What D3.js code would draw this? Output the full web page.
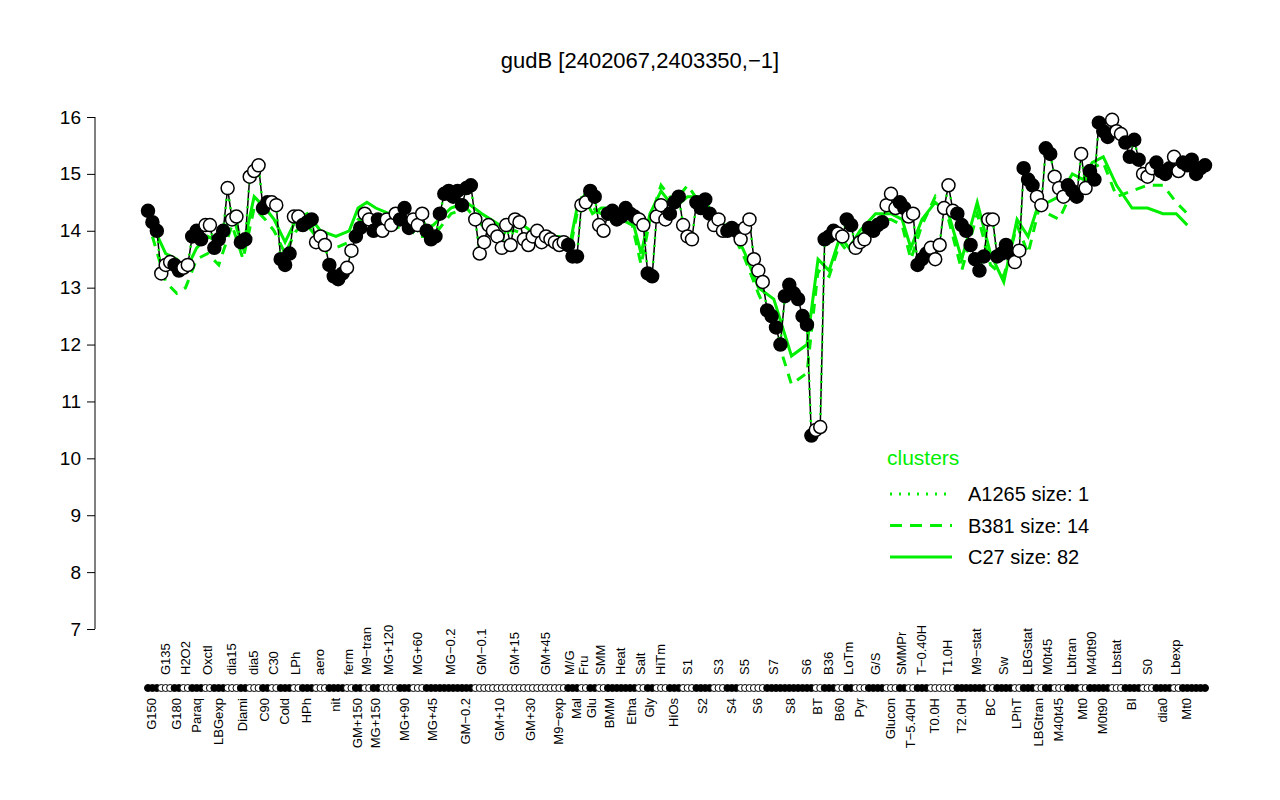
<!DOCTYPE html>
<html lang="en">
<head>
<meta charset="utf-8" />
<title>gudB</title>
<script src="https://d3js.org/d3.v7.min.js"></script>
<style>body{margin:0;background:#fff;} text{font-family:"Liberation Sans",Arial,sans-serif;}</style>
</head>
<body>
<svg id="chart" width="1280" height="800"></svg>
<script>
// groups of conditions, in plotting order
var groupNames = ["G150","G135","G180","H2O2","Paraq","Oxctl","LBGexp","dia15","Diami","dia5","C90","C30","Cold","LPh","HPh","aero","nit","ferm",
  "GM+150","M9\u2212tran","MG+150","MG+120","MG+90","MG+60","MG+45","MG\u22120.2","GM\u22120.2","GM\u22120.1","GM+10","GM+15","GM+30","GM+45","M9\u2212exp","M/G",
  "Mal","Fru","Glu","SMM","BMM","Heat","Etha","Salt","Gly","HiTm","HiOs","S1","S2","S3","S4","S5","S6","S7","S8","S6",
  "BT","B36","B60","LoTm","Pyr","G/S","Glucon","SMMPr","T\u22125.40H","T\u22120.40H","T0.0H","T1.0H","T2.0H","M9\u2212stat","BC","Sw",
  "LPhT","LBGstat","LBGtran","M0t45","M40t45","Lbtran","Mt0","M40t90","M0t90","Lbstat","BI","S0","dia0","Lbexp","Mt0"];
var groupValues = [[14.35,14.15,14.0],[13.25,13.4,13.45],[13.4,13.3],[13.35,13.4],[13.9,14.0,13.85],[14.1,14.1],[13.7,13.85,14.0],[14.75,14.2,14.25],[13.8,13.85],[14.95,15.05,15.15],
  [14.4,14.5],[14.5,14.45],[13.5,13.4,13.6],[14.25,14.25],[14.1,14.15,14.2],[13.8,13.9,13.75],[13.4,13.2,13.15,13.25],[13.35,13.65],
  [13.9,14.05],[14.3,14.2],[14.0,14.2],[14.0,14.2,14.1,14.3],[14.2,14.4,14.05],[14.2,14.1,14.3],[14.0,13.85,13.9,14.3],[14.65,14.7,14.6,14.7],[14.45,14.75,14.8],
  [14.2,13.6,13.8,14.1],[14.0,13.9,13.7,14.1],[13.75,14.2,14.15],[13.85,13.75,13.9,14.0],[13.8,13.9,13.85],[13.8,13.75,13.8],[13.75,13.55],[13.55],
  [14.45,14.5],[14.7,14.6],[14.1,14.0],[14.3,14.35],[14.2,14.25,14.4],[14.3,14.25],[14.2,14.1],[13.25,13.2],[14.25,14.45,14.2],[14.3,14.5,14.6],[14.1,13.9,13.85],
  [14.5,14.4,14.55,14.3],[14.1,14.2,14.0],[14.0,14.05,14.0],[13.85,14.05,14.2],[13.5,13.3,13.1],[12.6,12.5,12.3,12.0],[12.85,13.05,12.9,12.8],[12.5,12.35,10.4],[10.5,10.55],
  [13.85,13.9,14.0],[13.95,13.9],[14.2,14.1],[13.7,13.8,13.85],[14.05,14.0,14.1,14.15],[14.45,14.65,14.4],[14.5,14.4],[14.25,14.3],[13.4,13.5,13.6],[13.7,13.5,13.75],
  [14.4,14.8,14.35],[14.3,14.1,14.0],[13.75,13.5,13.3,13.55],[14.2,14.2],[13.55,13.6,13.75,13.6],[13.45,13.65],
  [15.1,14.9,14.8],[14.6,14.45],[15.45,15.35],[14.95,14.75,14.6],[14.8,14.7,14.6],[15.35,14.75],[15.05,14.9],[15.9,15.75,15.65],[15.95,15.75,15.7],[15.55,15.3,15.6,15.25],
  [15.0,14.95,15.1],[15.2,15.05,15.0,15.1],[15.3,15.05],[15.2,15.15,15.25],[15.0,15.1,15.15]];
var groupFilled = [1,0,1,0,1,0,1,0,1,0,1,0,1,0,1,0,1,0, 1,0,1,0,1,0,1,1,1,0,0,0,0,0,0,1,1, 0,1,0,1,1,1,0,1,0,1,0,1,0,1,0,0,1,1,1,0, 1,0,1,0,1,0,1,0,1,0,0,1,1,0,1,0, 1,0,1,0,1,0,1,1,0,1,0,1,0,1,1];
// cluster means per group
var c27 = [14.1,13.6,13.5,13.3,13.7,13.9,13.8,14.3,13.7,14.6,14.4,14.2,13.8,14.2,14.3,14.0,13.9,14.0,
  14.4,14.5,14.4,14.3,14.2,14.0,14.1,14.4,14.5,14.3,14.1,14.2,14.0,13.9,13.9,13.8,
  14.4,14.6,14.3,14.4,14.4,14.3,14.2,13.6,14.3,14.7,14.4,14.6,14.6,14.1,14.1,13.6,13.0,12.8,11.8,12.0,
  13.5,13.3,13.9,13.7,14.0,14.3,14.3,14.2,13.7,14.2,14.5,14.3,13.5,14.5,13.6,13.1,
  14.2,13.9,14.5,14.5,14.6,15.0,14.9,15.2,15.3,14.8,14.4,14.4,14.3,14.3,14.1];
var b381 = [13.9,13.1,12.9,13.0,13.5,13.6,13.4,14.1,13.5,14.4,14.2,14.0,13.6,14.0,14.1,13.8,13.7,13.8,
  14.2,14.2,14.1,14.0,14.1,13.9,13.9,14.3,14.4,14.1,14.0,14.0,13.9,13.8,13.7,13.7,
  14.3,14.7,14.4,14.3,14.2,14.2,14.1,13.4,14.2,14.8,14.5,14.8,14.4,14.0,14.0,13.5,12.9,12.3,11.3,11.5,
  13.3,13.2,13.8,13.6,13.9,14.2,14.2,14.1,13.5,14.1,14.6,14.2,13.3,14.3,13.4,13.2,
  14.1,13.6,14.4,14.3,14.2,14.7,14.8,15.1,15.2,14.6,14.7,14.8,14.8,14.5,14.3];
var yTicks = [7,8,9,10,11,12,13,14,15,16];

var svg = d3.select("#chart");
var pts = [], gCenter = [];
groupValues.forEach(function(vals, g) {
  var s = pts.length;
  vals.forEach(function(v) { pts.push({v: v, g: g}); });
  gCenter.push((s + pts.length - 1) / 2);
});
var x = d3.scaleLinear().domain([0, pts.length - 1]).range([148, 1205]);
var y = d3.scaleLinear().domain([7, 16]).range([629, 117]);

svg.append("text").attr("x", 640).attr("y", 68).attr("text-anchor", "middle")
  .attr("font-size", 22).text("gudB [2402067,2403350,\u22121]");

var ax = svg.append("g").attr("transform", "translate(95,0)")
  .call(d3.axisLeft(y).tickValues(yTicks).tickSize(8).tickPadding(6).tickFormat(d3.format("d")));
ax.selectAll("text").attr("font-size", 19).attr("fill", "#000").attr("font-family", "Liberation Sans, Arial, sans-serif");
ax.selectAll("line, path").attr("stroke", "#000");
ax.select(".domain").attr("d", "M0," + y(7) + "V" + y(16));

var gl = d3.line().x(function(d, i) { return x(gCenter[i]); }).y(function(d) { return y(d); });
svg.append("path").attr("d", gl(c27)).attr("fill", "none").attr("stroke", "#00ee00").attr("stroke-width", 3);
svg.append("path").attr("d", gl(b381)).attr("fill", "none").attr("stroke", "#00ee00").attr("stroke-width", 3).attr("stroke-dasharray", "10,8");

var line = d3.line().x(function(d, i) { return x(i); }).y(function(d) { return y(d.v); });
svg.append("path").attr("d", line(pts)).attr("fill", "none").attr("stroke", "#000").attr("stroke-width", 1.5);
svg.append("path").attr("d", line(pts)).attr("fill", "none").attr("stroke", "#00ee00").attr("stroke-width", 2.5).attr("stroke-dasharray", "2,6");

svg.selectAll("circle.pt").data(pts).enter().append("circle").attr("class", "pt")
  .attr("cx", function(d, i) { return x(i); }).attr("cy", function(d) { return y(d.v); }).attr("r", 6.5)
  .attr("fill", function(d) { return groupFilled[d.g] ? "#000" : "#fff"; }).attr("stroke", "#000").attr("stroke-width", 1.5);

// marker row
svg.selectAll("circle.mk").data(pts).enter().append("circle").attr("class", "mk")
  .attr("cx", function(d, i) { return x(i); }).attr("cy", 688).attr("r", 3.5)
  .attr("fill", function(d) { return groupFilled[d.g] ? "#000" : "#fff"; }).attr("stroke", "#000").attr("stroke-width", 1);

// group labels, alternating below / above
groupNames.forEach(function(n, g) {
  var up = g % 2 === 1;
  svg.append("text").attr("font-size", 13)
    .attr("transform", "translate(" + (x(gCenter[g]) + 4) + "," + (up ? 675 : 698) + ") rotate(-90)")
    .attr("text-anchor", up ? "start" : "end").text(n);
});

// legend
var lg = svg.append("g");
lg.append("text").attr("x", 887).attr("y", 465).attr("font-size", 21).attr("fill", "#00ee00").text("clusters");
var leg = [["A1265 size: 1", "2,7"], ["B381 size: 14", "12,8"], ["C27 size: 82", null]];
leg.forEach(function(d, i) {
  var yy = 494 + i * 31.5;
  var l = lg.append("line").attr("x1", 890).attr("x2", 952).attr("y1", yy).attr("y2", yy)
    .attr("stroke", "#00ee00").attr("stroke-width", 3);
  if (d[1]) l.attr("stroke-dasharray", d[1]);
  lg.append("text").attr("x", 968).attr("y", yy + 7).attr("font-size", 20).text(d[0]);
});
</script>
</body>
</html>
